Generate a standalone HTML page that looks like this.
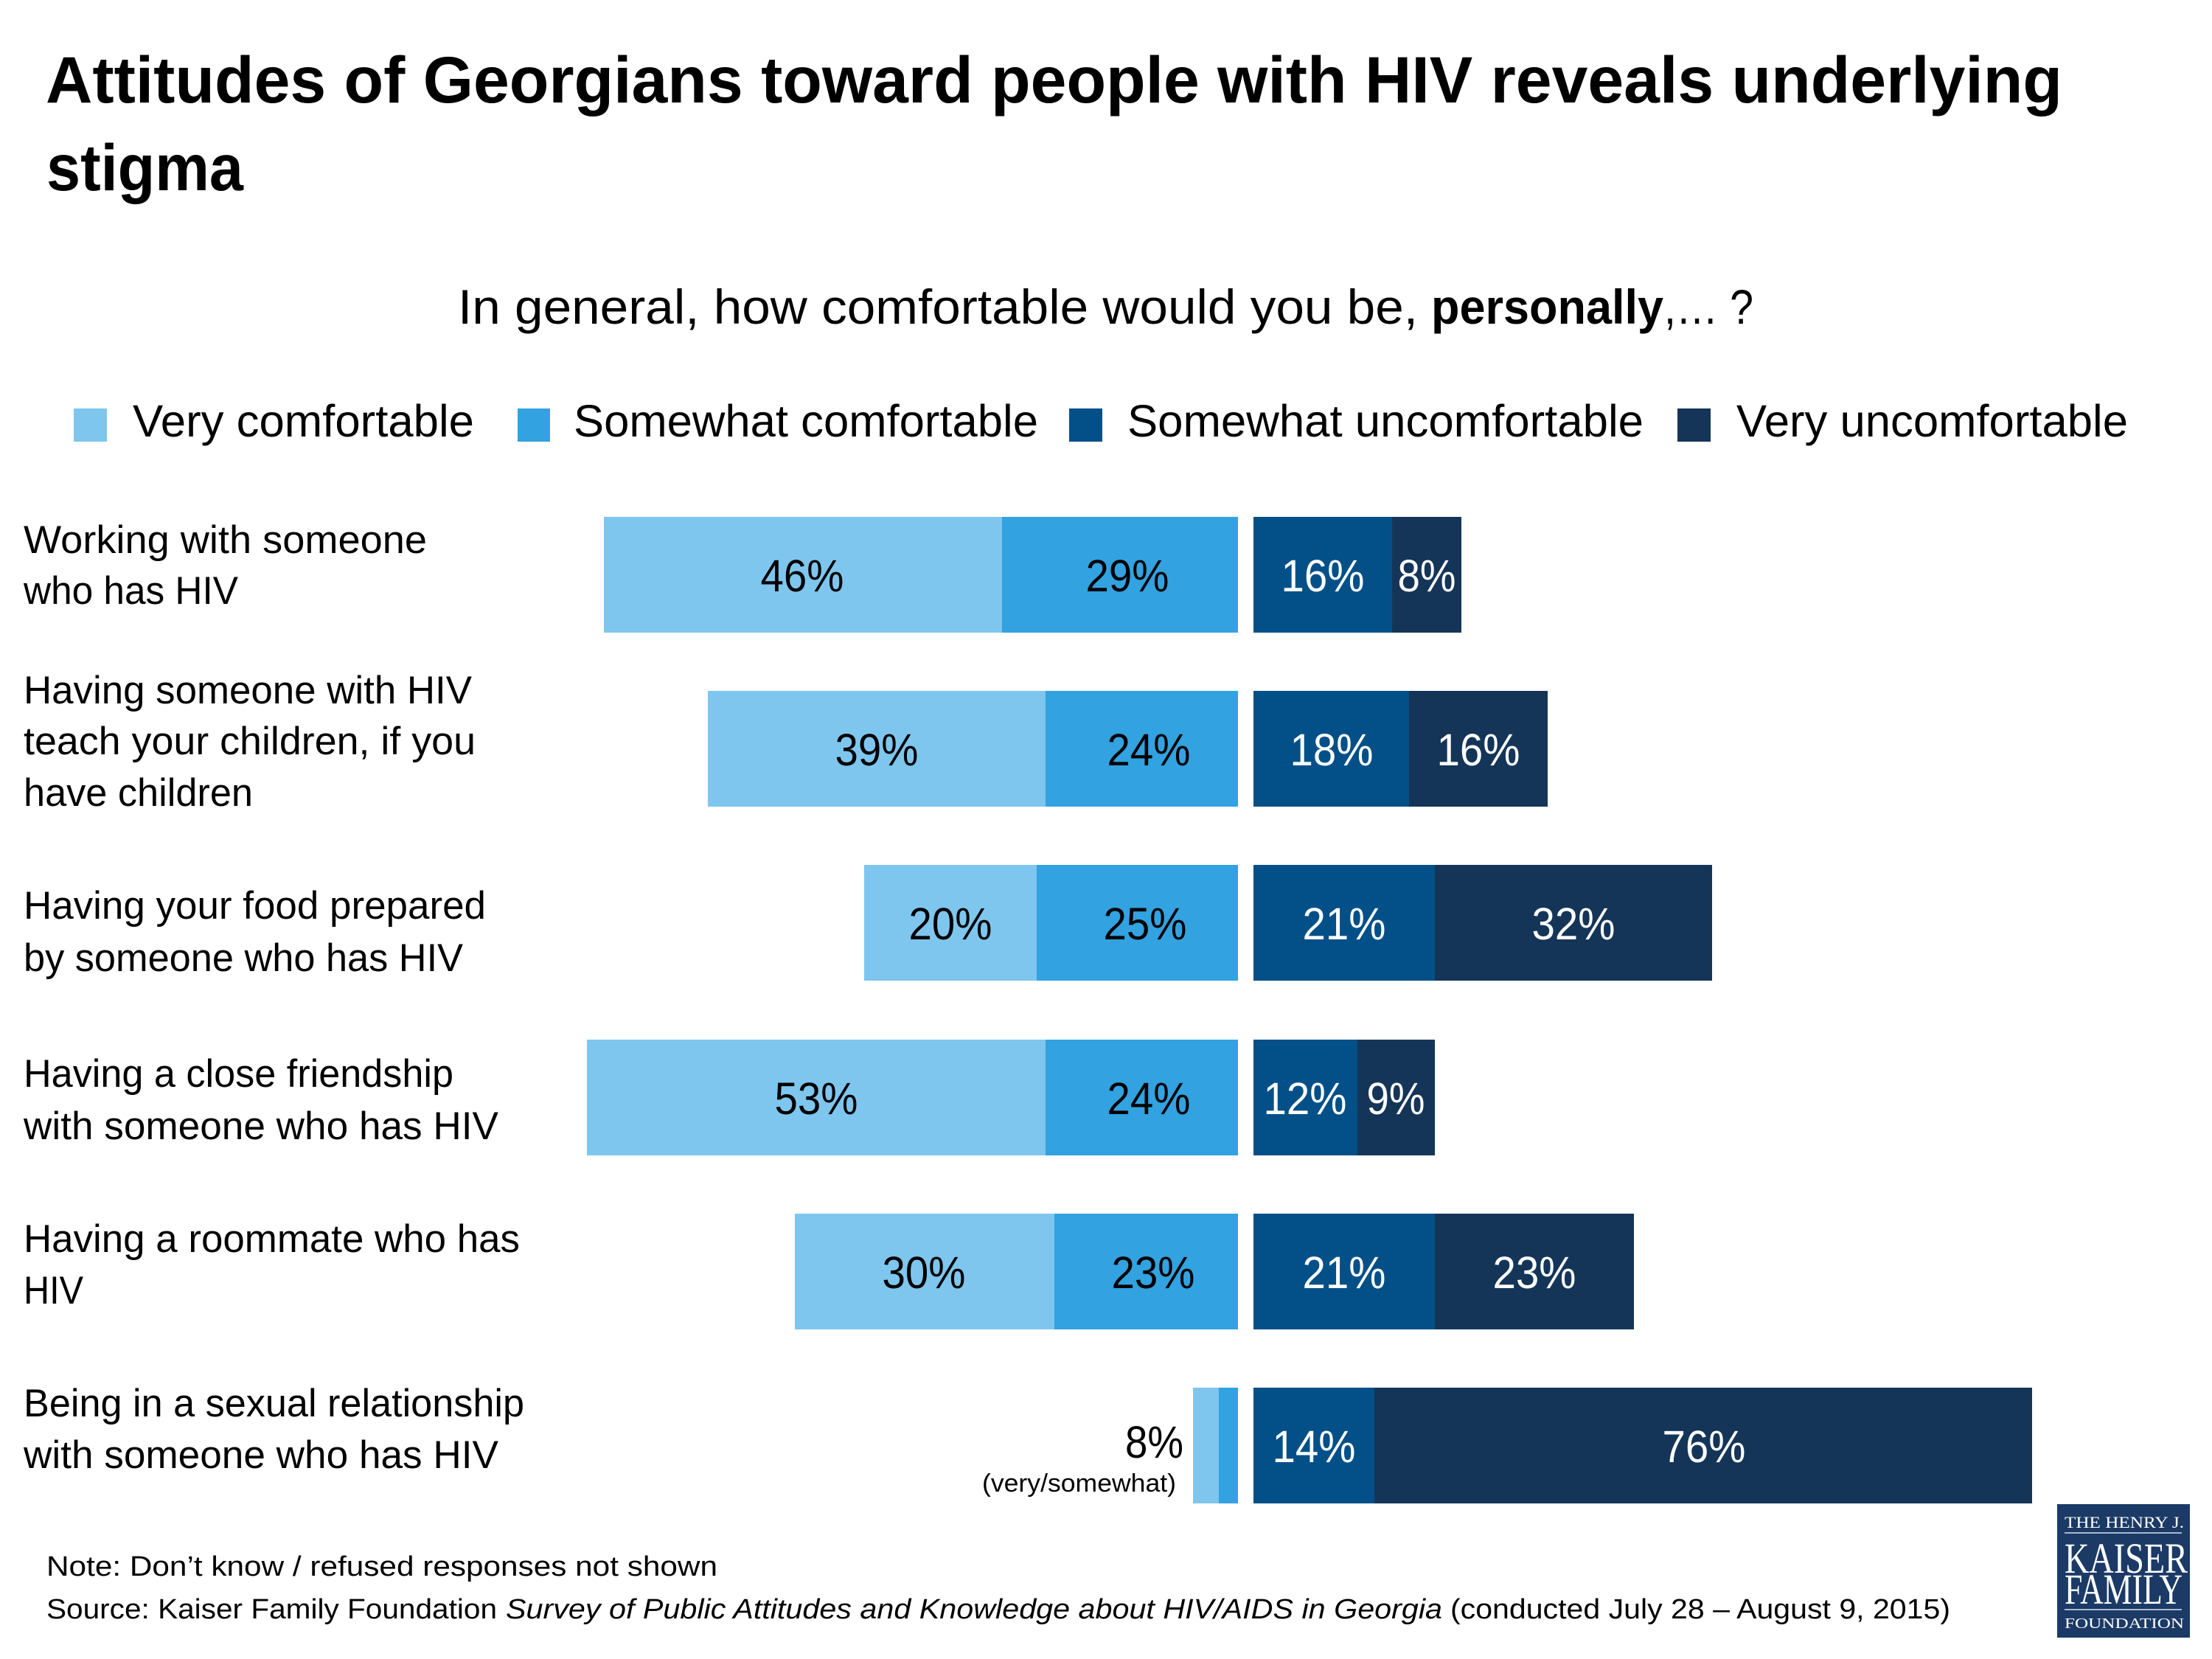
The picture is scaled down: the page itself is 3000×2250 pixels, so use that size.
<!DOCTYPE html>
<html>
<head>
<meta charset="utf-8">
<style>
  html, body { margin: 0; padding: 0; background: #ffffff; }
  svg { display: block; }
  text { font-family: "Liberation Sans", Arial, sans-serif; }
  .serif { font-family: "Liberation Serif", "Times New Roman", serif; }
</style>
</head>
<body>
<svg width="3000" height="2250" viewBox="0 0 3000 2250" xmlns="http://www.w3.org/2000/svg">
  <rect x="0" y="0" width="3000" height="2250" fill="#ffffff"/>

  <!-- Title -->
  <text x="62" y="139" font-size="89" font-weight="bold" fill="#000" textLength="2735" lengthAdjust="spacingAndGlyphs">Attitudes of Georgians toward people with HIV reveals underlying</text>
  <text x="63" y="258" font-size="89" font-weight="bold" fill="#000" textLength="267" lengthAdjust="spacingAndGlyphs">stigma</text>

  <!-- Subtitle -->
  <text x="621" y="439" font-size="66" fill="#000" textLength="1302" lengthAdjust="spacingAndGlyphs">In general, how comfortable would you be,</text>
  <text x="1941" y="439" font-size="66" font-weight="bold" fill="#000" textLength="315" lengthAdjust="spacingAndGlyphs">personally</text>
  <text x="2257" y="439" font-size="66" fill="#000" textLength="121" lengthAdjust="spacingAndGlyphs">,… ?</text>

  <!-- Legend -->
  <rect x="100" y="554" width="45" height="45" fill="#7EC6EE"/>
  <text x="180" y="592" font-size="61" fill="#000" textLength="463" lengthAdjust="spacingAndGlyphs">Very comfortable</text>
  <rect x="702" y="554" width="44" height="45" fill="#32A2E0"/>
  <text x="778" y="592" font-size="61" fill="#000" textLength="630" lengthAdjust="spacingAndGlyphs">Somewhat comfortable</text>
  <rect x="1450" y="554" width="45" height="45" fill="#035088"/>
  <text x="1529" y="592" font-size="61" fill="#000" textLength="700" lengthAdjust="spacingAndGlyphs">Somewhat uncomfortable</text>
  <rect x="2275" y="554" width="45" height="45" fill="#143558"/>
  <text x="2355" y="592" font-size="61" fill="#000" textLength="531" lengthAdjust="spacingAndGlyphs">Very uncomfortable</text>

  <!-- Row labels -->
  <g font-size="53" fill="#000">
    <text x="32" y="750" textLength="547" lengthAdjust="spacingAndGlyphs">Working with someone</text>
    <text x="32" y="819" textLength="291" lengthAdjust="spacingAndGlyphs">who has HIV</text>

    <text x="32" y="954" textLength="608" lengthAdjust="spacingAndGlyphs">Having someone with HIV</text>
    <text x="32" y="1023" textLength="613" lengthAdjust="spacingAndGlyphs">teach your children, if you</text>
    <text x="32" y="1093" textLength="311" lengthAdjust="spacingAndGlyphs">have children</text>

    <text x="32" y="1246" textLength="627" lengthAdjust="spacingAndGlyphs">Having your food prepared</text>
    <text x="32" y="1317" textLength="596" lengthAdjust="spacingAndGlyphs">by someone who has HIV</text>

    <text x="32" y="1474" textLength="583" lengthAdjust="spacingAndGlyphs">Having a close friendship</text>
    <text x="32" y="1545" textLength="644" lengthAdjust="spacingAndGlyphs">with someone who has HIV</text>

    <text x="32" y="1698" textLength="673" lengthAdjust="spacingAndGlyphs">Having a roommate who has</text>
    <text x="32" y="1768" textLength="81" lengthAdjust="spacingAndGlyphs">HIV</text>

    <text x="32" y="1921" textLength="679" lengthAdjust="spacingAndGlyphs">Being in a sexual relationship</text>
    <text x="32" y="1991" textLength="644" lengthAdjust="spacingAndGlyphs">with someone who has HIV</text>
  </g>

  <!-- Bars -->
  <!-- Row 1 -->
  <rect x="819" y="701" width="540" height="157" fill="#7EC6EE"/>
  <rect x="1359" y="701" width="320" height="157" fill="#32A2E0"/>
  <rect x="1700" y="701" width="188" height="157" fill="#035088"/>
  <rect x="1888" y="701" width="94" height="157" fill="#143558"/>
  <!-- Row 2 -->
  <rect x="960" y="937" width="458" height="157" fill="#7EC6EE"/>
  <rect x="1418" y="937" width="261" height="157" fill="#32A2E0"/>
  <rect x="1700" y="937" width="211" height="157" fill="#035088"/>
  <rect x="1911" y="937" width="188" height="157" fill="#143558"/>
  <!-- Row 3 -->
  <rect x="1172" y="1173" width="234" height="157" fill="#7EC6EE"/>
  <rect x="1406" y="1173" width="273" height="157" fill="#32A2E0"/>
  <rect x="1700" y="1173" width="246" height="157" fill="#035088"/>
  <rect x="1946" y="1173" width="376" height="157" fill="#143558"/>
  <!-- Row 4 -->
  <rect x="796" y="1410" width="622" height="157" fill="#7EC6EE"/>
  <rect x="1418" y="1410" width="261" height="157" fill="#32A2E0"/>
  <rect x="1700" y="1410" width="141" height="157" fill="#035088"/>
  <rect x="1841" y="1410" width="105" height="157" fill="#143558"/>
  <!-- Row 5 -->
  <rect x="1078" y="1646" width="352" height="157" fill="#7EC6EE"/>
  <rect x="1430" y="1646" width="249" height="157" fill="#32A2E0"/>
  <rect x="1700" y="1646" width="246" height="157" fill="#035088"/>
  <rect x="1946" y="1646" width="270" height="157" fill="#143558"/>
  <!-- Row 6 -->
  <rect x="1618" y="1882" width="35" height="157" fill="#7EC6EE"/>
  <rect x="1653" y="1882" width="26" height="157" fill="#32A2E0"/>
  <rect x="1700" y="1882" width="164" height="157" fill="#035088"/>
  <rect x="1864" y="1882" width="892" height="157" fill="#143558"/>

  <!-- Bar value labels -->
  <g font-size="61" text-anchor="middle" lengthAdjust="spacingAndGlyphs">
    <text x="1088" y="802" fill="#000" textLength="113" lengthAdjust="spacingAndGlyphs">46%</text>
    <text x="1529" y="802" fill="#000" textLength="113" lengthAdjust="spacingAndGlyphs">29%</text>
    <text x="1794" y="802" fill="#fff" textLength="113" lengthAdjust="spacingAndGlyphs">16%</text>
    <text x="1935" y="802" fill="#fff" textLength="79" lengthAdjust="spacingAndGlyphs">8%</text>

    <text x="1189" y="1038" fill="#000" textLength="113" lengthAdjust="spacingAndGlyphs">39%</text>
    <text x="1558" y="1038" fill="#000" textLength="113" lengthAdjust="spacingAndGlyphs">24%</text>
    <text x="1806" y="1038" fill="#fff" textLength="113" lengthAdjust="spacingAndGlyphs">18%</text>
    <text x="2005" y="1038" fill="#fff" textLength="113" lengthAdjust="spacingAndGlyphs">16%</text>

    <text x="1289" y="1274" fill="#000" textLength="113" lengthAdjust="spacingAndGlyphs">20%</text>
    <text x="1553" y="1274" fill="#000" textLength="113" lengthAdjust="spacingAndGlyphs">25%</text>
    <text x="1823" y="1274" fill="#fff" textLength="113" lengthAdjust="spacingAndGlyphs">21%</text>
    <text x="2134" y="1274" fill="#fff" textLength="113" lengthAdjust="spacingAndGlyphs">32%</text>

    <text x="1107" y="1511" fill="#000" textLength="113" lengthAdjust="spacingAndGlyphs">53%</text>
    <text x="1558" y="1511" fill="#000" textLength="113" lengthAdjust="spacingAndGlyphs">24%</text>
    <text x="1770" y="1511" fill="#fff" textLength="113" lengthAdjust="spacingAndGlyphs">12%</text>
    <text x="1893" y="1511" fill="#fff" textLength="79" lengthAdjust="spacingAndGlyphs">9%</text>

    <text x="1253" y="1747" fill="#000" textLength="113" lengthAdjust="spacingAndGlyphs">30%</text>
    <text x="1564" y="1747" fill="#000" textLength="113" lengthAdjust="spacingAndGlyphs">23%</text>
    <text x="1823" y="1747" fill="#fff" textLength="113" lengthAdjust="spacingAndGlyphs">21%</text>
    <text x="2081" y="1747" fill="#fff" textLength="113" lengthAdjust="spacingAndGlyphs">23%</text>

    <text x="1782" y="1983" fill="#fff" textLength="113" lengthAdjust="spacingAndGlyphs">14%</text>
    <text x="2311" y="1983" fill="#fff" textLength="113" lengthAdjust="spacingAndGlyphs">76%</text>
  </g>
  <text x="1605" y="1977" font-size="61" text-anchor="end" fill="#000" textLength="79" lengthAdjust="spacingAndGlyphs">8%</text>
  <text x="1332" y="2023" font-size="34" fill="#000" textLength="263" lengthAdjust="spacingAndGlyphs">(very/somewhat)</text>

  <!-- Footer -->
  <text x="63" y="2137" font-size="38" fill="#000" textLength="910" lengthAdjust="spacingAndGlyphs">Note: Don’t know / refused responses not shown</text>
  <text x="63" y="2195" font-size="38" fill="#000" textLength="611" lengthAdjust="spacingAndGlyphs">Source: Kaiser Family Foundation</text>
  <text x="686" y="2195" font-size="38" font-style="italic" fill="#000" textLength="1270" lengthAdjust="spacingAndGlyphs">Survey of Public Attitudes and Knowledge about HIV/AIDS in Georgia</text>
  <text x="1967" y="2195" font-size="38" fill="#000" textLength="678" lengthAdjust="spacingAndGlyphs">(conducted July 28 – August 9, 2015)</text>

  <!-- Logo -->
  <rect x="2790" y="2040" width="180" height="181" fill="#1B3A66"/>
  <text class="serif" x="2800" y="2072" font-size="22" fill="#ffffff" textLength="162" lengthAdjust="spacingAndGlyphs">THE HENRY J.</text>
  <rect x="2800" y="2078" width="159" height="2" fill="#A9B8CC"/>
  <text class="serif" x="2800" y="2133" font-size="58" fill="#ffffff" textLength="167" lengthAdjust="spacingAndGlyphs">KAISER</text>
  <text class="serif" x="2800" y="2175" font-size="58" fill="#ffffff" textLength="160" lengthAdjust="spacingAndGlyphs">FAMILY</text>
  <rect x="2800" y="2182" width="159" height="2" fill="#A9B8CC"/>
  <text class="serif" x="2800" y="2208" font-size="20" fill="#ffffff" textLength="162" lengthAdjust="spacingAndGlyphs">FOUNDATION</text>
</svg>
</body>
</html>
